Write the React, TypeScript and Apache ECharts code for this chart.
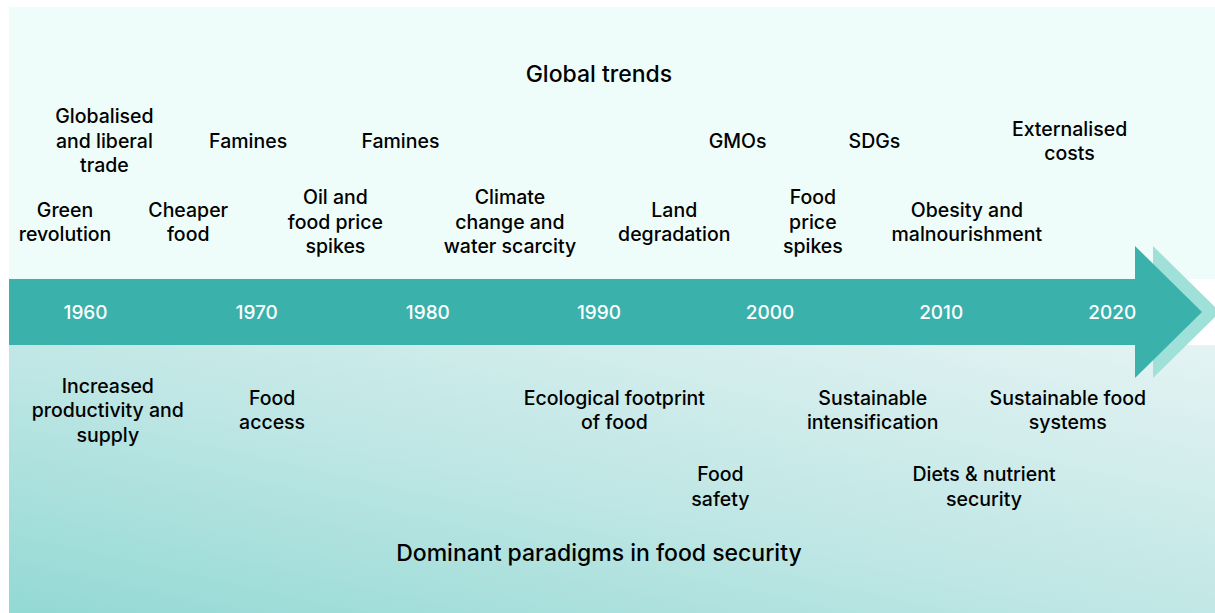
import React, { useEffect, useRef } from "react";
import * as echarts from "echarts";

// Year ticks along the timeline band
const yearTicks = [1960, 1970, 1980, 1990, 2000, 2010, 2020];

// Global trends (above the band): label, year position, row level
const trendLabels = [
  "Green\nrevolution",
  "Globalised\nand liberal\ntrade",
  "Cheaper\nfood",
  "Famines",
  "Oil and\nfood price\nspikes",
  "Famines",
  "Climate\nchange and\nwater scarcity",
  "Land\ndegradation",
  "GMOs",
  "Food\nprice\nspikes",
  "SDGs",
  "Obesity and\nmalnourishment",
  "Externalised\ncosts",
];
const trendYears = [1958.8, 1961.1, 1966.0, 1969.5, 1974.6, 1978.4, 1984.8, 1994.4, 1998.1, 2002.5, 2006.1, 2011.5, 2017.5];
const trendLevels = [63.8, 77.0, 63.8, 77.0, 63.8, 77.0, 63.8, 63.8, 77.0, 63.8, 77.0, 63.8, 77.0];

// Dominant paradigms (below the band)
const paradigmLabels = [
  "Increased\nproductivity and\nsupply",
  "Food\naccess",
  "Ecological footprint\nof food",
  "Food\nsafety",
  "Sustainable\nintensification",
  "Diets & nutrient\nsecurity",
  "Sustainable food\nsystems",
];
const paradigmYears = [1961.3, 1970.9, 1990.9, 1997.1, 2006.0, 2012.5, 2017.4];
const paradigmLevels = [33.1, 33.1, 33.1, 20.6, 33.1, 20.6, 33.1];

const titles = ["Global trends", "Dominant paradigms in food security"];
const titleYears = [1990.0, 1990.0];
const titleLevels = [87.9, 9.8];
const bandLevel = 49.1;

const FONT = "Inter, 'Noto Sans', sans-serif";

export default function App() {
  const ref = useRef<HTMLDivElement>(null);
  useEffect(() => {
    if (!ref.current) return;
    const chart = echarts.init(ref.current, undefined, { renderer: "svg" });
    const textSeries = (name: string, labels: string[], xs: number[], ys: number[], opts: any) => ({
      name,
      type: "scatter",
      symbolSize: 0,
      silent: true,
      z: 10,
      itemStyle: { opacity: 1 },
      data: labels.map((l, i) => ({ name: l, value: [xs[i], ys[i]] })),
      label: {
        show: true,
        position: "inside",
        formatter: (p: any) => p.data.name,
        fontFamily: FONT,
        align: "center",
        verticalAlign: "middle",
        textBorderWidth: 0,
        opacity: 1,
        ...opts,
      },
    });
    chart.setOption({
      animation: false,
      grid: { left: 0, right: 0, top: 0, bottom: 0 },
      xAxis: { type: "value", min: 1955, max: 2026, show: false },
      yAxis: { type: "value", min: 0, max: 100, show: false },
      graphic: [
        {
          type: "rect",
          z: -10,
          shape: { x: 9, y: 7, width: 1206, height: 272 },
          style: { fill: "#eefdf9" },
        },
        {
          type: "rect",
          z: -10,
          shape: { x: 9, y: 345, width: 1206, height: 268 },
          style: {
            fill: new echarts.graphic.LinearGradient(0, 1, 1, 0, [
              { offset: 0, color: "#93d9d4" },
              { offset: 0.45, color: "#bde6e4" },
              { offset: 1, color: "#e4f3f3" },
            ]),
          },
        },
        {
          type: "polygon",
          z: -5,
          shape: { points: [[1153, 246], [1220, 312], [1153, 378]] },
          style: { fill: "#9fe0d9" },
        },
        {
          type: "rect",
          z: -4,
          shape: { x: 9, y: 279, width: 1127, height: 66 },
          style: { fill: "#3ab1ab" },
        },
        {
          type: "polygon",
          z: -4,
          shape: { points: [[1135, 246], [1202, 312], [1135, 378]] },
          style: { fill: "#3ab1ab" },
        },
      ],
      series: [
        textSeries("years", yearTicks.map(String), yearTicks, yearTicks.map(() => bandLevel), {
          color: "#ffffff",
          fontSize: 19,
          fontWeight: 500,
        }),
        textSeries("trends", trendLabels, trendYears, trendLevels, {
          color: "#000000",
          fontSize: 19.5,
          fontWeight: 500,
          lineHeight: 24.5,
        }),
        textSeries("paradigms", paradigmLabels, paradigmYears, paradigmLevels, {
          color: "#000000",
          fontSize: 19.5,
          fontWeight: 500,
          lineHeight: 24.5,
        }),
        textSeries("titles", titles, titleYears, titleLevels, {
          color: "#000000",
          fontSize: 23,
          fontWeight: 500,
        }),
      ],
    });
    return () => chart.dispose();
  }, []);
  return (
    <div
      ref={ref}
      style={{ position: "absolute", left: 0, top: 0, width: 1215, height: 613 }}
    />
  );
}
